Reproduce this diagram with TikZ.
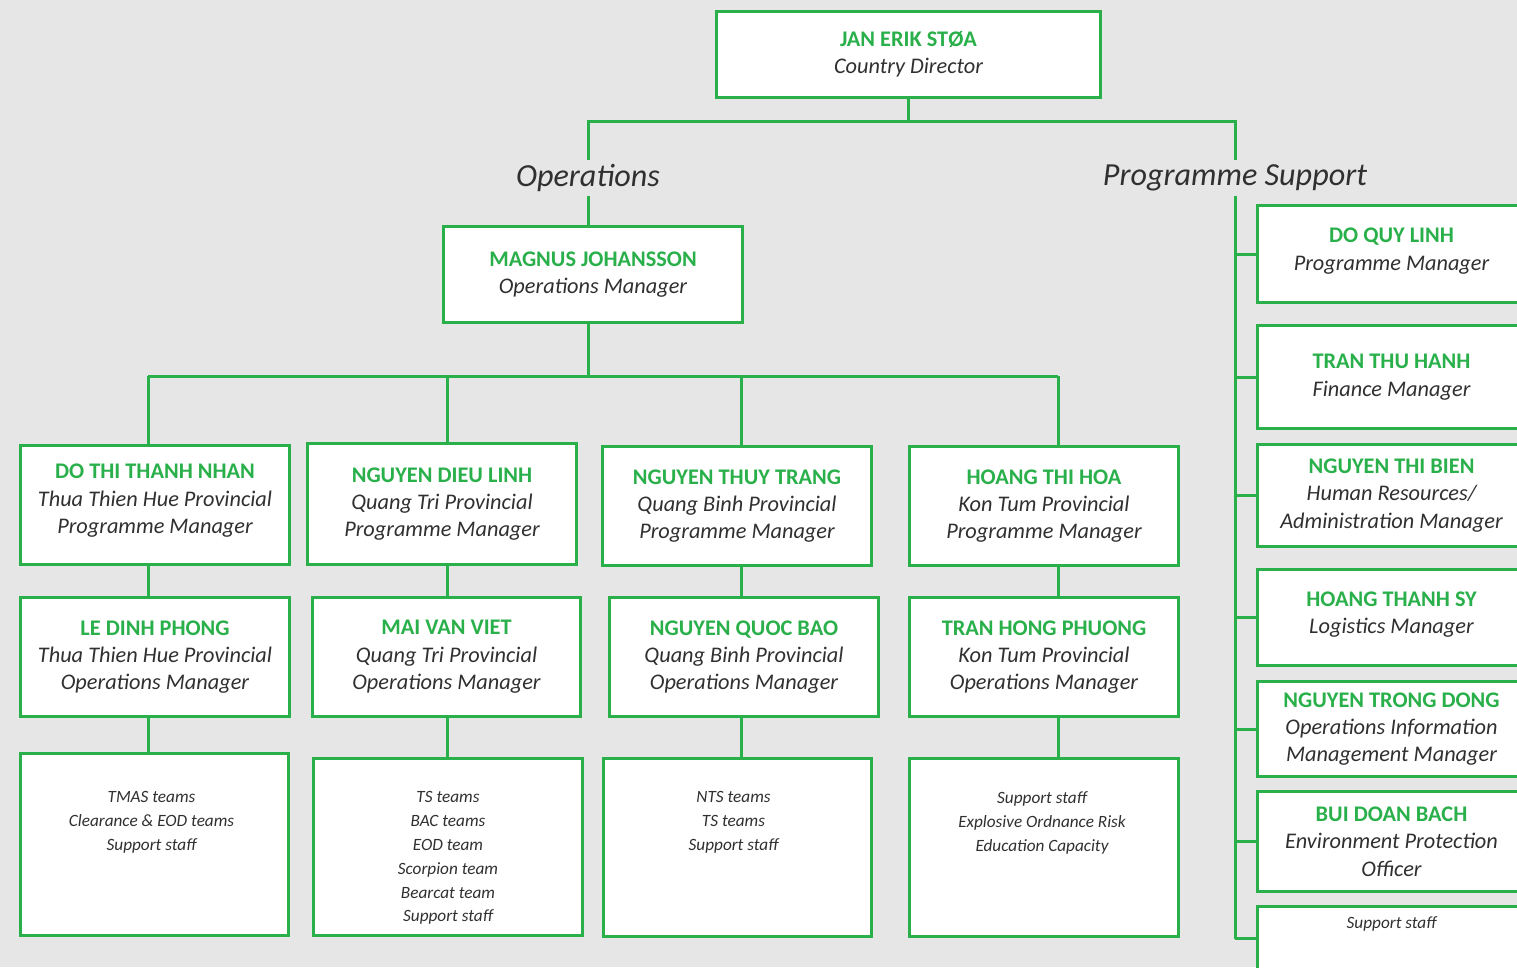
\documentclass[tikz,border=0pt]{standalone}
\usepackage{fontspec}
\setmainfont{Carlito}
\usetikzlibrary{positioning}

\newdimen\pxu \pxu=0.02cm
\definecolor{orggreen}{HTML}{2AB04B}
\definecolor{orgbg}{HTML}{E6E6E6}
\definecolor{orgtext}{HTML}{303030}
\newcommand\rolefont{\fontsize{12.7}{15.6}\selectfont\itshape}
\newcommand\teamfont{\fontsize{9.8}{13.6}\selectfont\itshape}
\newcommand\headfont{\fontsize{18.3}{22}\selectfont\itshape}
\newcommand\nm[1]{{\upshape\bfseries\color{orggreen}#1}}

\begin{document}
\begin{tikzpicture}[x=0.02cm,y=-0.02cm,
  person box/.style={draw=orggreen,line width=3\pxu,fill=white,anchor=north west,
    inner sep=0pt,align=center,text=orgtext,font=\rolefont},
  team box/.style={draw=orggreen,line width=3\pxu,fill=white,anchor=north west,inner sep=0pt},
  team text/.style={align=center,text=orgtext,font=\teamfont,inner sep=0pt},
  group label/.style={font=\headfont,text=orgtext,inner sep=4\pxu},
  link/.style={draw=orggreen,line width=3\pxu}]

  \fill[orgbg] (0,0) rectangle (1517,967);
  \useasboundingbox (0,0) rectangle (1517,967);

  % director and the two groups
  \node[person box,minimum width=384\pxu,minimum height=86\pxu] (jan) at (715,10)
    {\nm{JAN ERIK STØA}\\Country Director};
  \node[group label] (ops) at (588,178) {Operations};
  \node[group label] (ps) at (1235,178) {Programme Support};
  \node[person box,minimum width=299\pxu,minimum height=96\pxu] (magnus) at (442,225)
    {\nm{MAGNUS JOHANSSON}\\Operations Manager};

  % provincial programme managers
  \node[person box,minimum width=269\pxu,minimum height=119\pxu,text depth=12\pxu] (a1) at (19,444)
    {\nm{DO THI THANH NHAN}\\Thua Thien Hue Provincial\\Programme Manager};
  \node[person box,minimum width=269\pxu,minimum height=121\pxu] (b1) at (306,442)
    {\nm{NGUYEN DIEU LINH}\\Quang Tri Provincial\\Programme Manager};
  \node[person box,minimum width=269\pxu,minimum height=119\pxu] (c1) at (601,445)
    {\nm{NGUYEN THUY TRANG}\\Quang Binh Provincial\\Programme Manager};
  \node[person box,minimum width=269\pxu,minimum height=119\pxu] (d1) at (908,445)
    {\nm{HOANG THI HOA}\\Kon Tum Provincial\\Programme Manager};

  % provincial operations managers
  \node[person box,minimum width=269\pxu,minimum height=119\pxu] (a2) at (19,596)
    {\nm{LE DINH PHONG}\\Thua Thien Hue Provincial\\Operations Manager};
  \node[person box,minimum width=268\pxu,minimum height=119\pxu] (b2) at (311,596)
    {\nm{MAI VAN VIET}\\Quang Tri Provincial\\Operations Manager};
  \node[person box,minimum width=269\pxu,minimum height=119\pxu] (c2) at (608,596)
    {\nm{NGUYEN QUOC BAO}\\Quang Binh Provincial\\Operations Manager};
  \node[person box,minimum width=269\pxu,minimum height=119\pxu] (d2) at (908,596)
    {\nm{TRAN HONG PHUONG}\\Kon Tum Provincial\\Operations Manager};

  % teams
  \node[team box,minimum width=268\pxu,minimum height=182\pxu] (a3) at (19,752) {};
  \node[team box,minimum width=269\pxu,minimum height=177\pxu] (b3) at (312,757) {};
  \node[team box,minimum width=268\pxu,minimum height=178\pxu] (c3) at (602,757) {};
  \node[team box,minimum width=269\pxu,minimum height=178\pxu] (d3) at (908,757) {};
  \node[team text,below=39\pxu of a3.north,xshift=-3\pxu] (a3t)
    {TMAS teams\\Clearance \& EOD teams\\Support staff};
  \node[team text,below=34\pxu of b3.north] (b3t)
    {TS teams\\BAC teams\\EOD team\\Scorpion team\\Bearcat team\\Support staff};
  \node[team text,below=34\pxu of c3.north,xshift=-4\pxu] (c3t)
    {NTS teams\\TS teams\\Support staff};
  \node[team text,below=34\pxu of d3.north,xshift=-2\pxu] (d3t)
    {Support staff\\Explosive Ordnance Risk\\Education Capacity};

  % programme support staff
  \node[person box,minimum width=268\pxu,minimum height=97\pxu,text depth=10\pxu] (r1) at (1256,204)
    {\nm{DO QUY LINH}\\Programme Manager};
  \node[person box,minimum width=268\pxu,minimum height=103\pxu] (r2) at (1256,324)
    {\nm{TRAN THU HANH}\\Finance Manager};
  \node[person box,minimum width=268\pxu,minimum height=102\pxu] (r3) at (1256,443)
    {\nm{NGUYEN THI BIEN}\\Human Resources/\\Administration Manager};
  \node[person box,minimum width=268\pxu,minimum height=96\pxu,text depth=10\pxu] (r4) at (1256,568)
    {\nm{HOANG THANH SY}\\Logistics Manager};
  \node[person box,minimum width=268\pxu,minimum height=95\pxu] (r5) at (1256,680)
    {\nm{NGUYEN TRONG DONG}\\Operations Information\\Management Manager};
  \node[person box,minimum width=268\pxu,minimum height=100\pxu] (r6) at (1256,790)
    {\nm{BUI DOAN BACH}\\Environment Protection\\Officer};
  \node[team box,minimum width=268\pxu,minimum height=64\pxu] (r7) at (1256,905) {};
  \node[team text,below=11\pxu of r7.north] (r7t) {Support staff};

  % connectors
  \coordinate (topbus) at (907,121);
  \coordinate (busa) at (148,376);
  \coordinate (busb) at (447,376);
  \coordinate (busc) at (741,376);
  \coordinate (busd) at (1058,376);

  \draw[link] (jan.south) -- (jan.south |- topbus);
  \draw[link] (ops.north) |- (topbus) -| (ps.north);
  \draw[link] (ops.south) -- (ops.south |- magnus.north);
  \draw[link] (ops.south |- magnus.south) -- (ops.south |- busa);
  \draw[link] (busa) -- (busd);
  \draw[link] (busa) -- (busa |- a1.north) (busa |- a1.south) -- (busa |- a2.north)
    (busa |- a2.south) -- (busa |- a3.north);
  \draw[link] (busb) -- (busb |- b1.north) (busb |- b1.south) -- (busb |- b2.north)
    (busb |- b2.south) -- (busb |- b3.north);
  \draw[link] (busc) -- (busc |- c1.north) (busc |- c1.south) -- (busc |- c2.north)
    (busc |- c2.south) -- (busc |- c3.north);
  \draw[link] (busd) -- (busd |- d1.north) (busd |- d1.south) -- (busd |- d2.north)
    (busd |- d2.south) -- (busd |- d3.north);

  \draw[link] (ps.south) -- (ps.south |- r7.west);
  \draw[link] (ps.south |- r1.west) -- (r1.west)
    (ps.south |- r2.west) -- (r2.west)
    (ps.south |- r3.west) -- (r3.west)
    (ps.south |- r4.west) -- (r4.west)
    (ps.south |- r5.west) -- (r5.west)
    (ps.south |- r6.west) -- (r6.west)
    (ps.south |- r7.west) -- (r7.west);
\end{tikzpicture}
\end{document}
